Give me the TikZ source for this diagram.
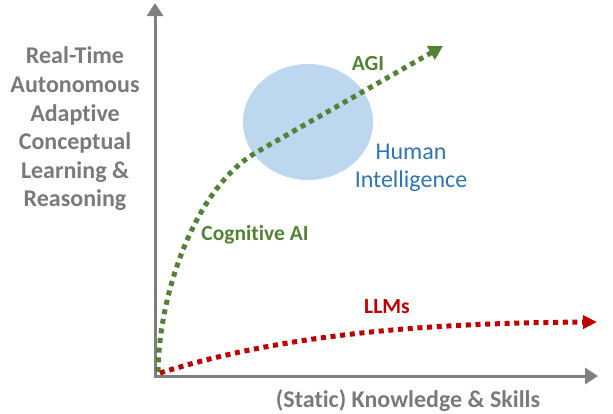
\documentclass[tikz,border=0pt]{standalone}
\usepackage{fontspec}
\setmainfont{Carlito}[Ligatures=NoCommon]
\usetikzlibrary{arrows.meta}
\definecolor{axgray}{HTML}{7F7F7F}
\definecolor{txgray}{HTML}{7A7A7A}
\definecolor{agreen}{HTML}{548235}
\definecolor{ared}{HTML}{C00000}
\definecolor{hblue}{HTML}{2E75B6}
\definecolor{hfill}{HTML}{BDD7EE}
\tikzset{
  axisline/.style={draw=axgray, line width=3pt, -{Triangle[length=13pt,width=16pt]}},
  dotline/.style={line width=5pt, dash pattern=on 5pt off 4.7pt},
  lbl/.style={font=\fontsize{21.5}{28.6}\selectfont\bfseries, inner sep=0pt},
  biglbl/.style={font=\fontsize{24}{28.6}\selectfont\bfseries, inner sep=0pt},
}
\begin{document}
\begin{tikzpicture}[x=1pt,y=-1pt]
\useasboundingbox (0,0) rectangle (613,413);
% human intelligence ellipse
\fill[hfill] (308,122) ellipse [x radius=65, y radius=58];
% axes
\coordinate (o) at (155,377);
\coordinate (ytip) at (155,3);
\coordinate (xtip) at (598,376);
\draw[axisline] (155,377.5) -- (ytip);
\draw[axisline] (153.5,376) -- (xtip);
% curves
\coordinate (gs) at (158,372);
\coordinate (gm) at (257,152);
\coordinate (ge) at (443,46);
\draw[agreen, dotline, -{Triangle[length=14pt,width=15pt]}] (gs) .. controls (159,290) and (197,186) .. (gm) .. controls (320,116) and (380,82) .. (ge);
\coordinate (rs) at (160,373);
\coordinate (re) at (597,322);
\draw[ared, dotline, -{Triangle[length=14pt,width=13pt]}] (rs) .. controls (280,335) and (420,323) .. (re);
% labels
\node[biglbl, txgray, align=center] (ylab) at (75,129) {Real-Time\\Autonomous\\Adaptive\\Conceptual\\Learning \&\\Reasoning};
\node[biglbl, txgray] (xlab) at (408,401) {(Static) Knowledge \& Skills};
\node[lbl, agreen] (agi) at (368,64) {AGI};
\node[lbl, agreen] (cog) at (255,235) {Cognitive AI};
\node[lbl, ared] (llm) at (387,307) {LLMs};
\node[font=\fontsize{24}{28}\selectfont, text=hblue, align=center, inner sep=0pt] (hum) at (411,168) {Human\\Intelligence};
\end{tikzpicture}
\end{document}
